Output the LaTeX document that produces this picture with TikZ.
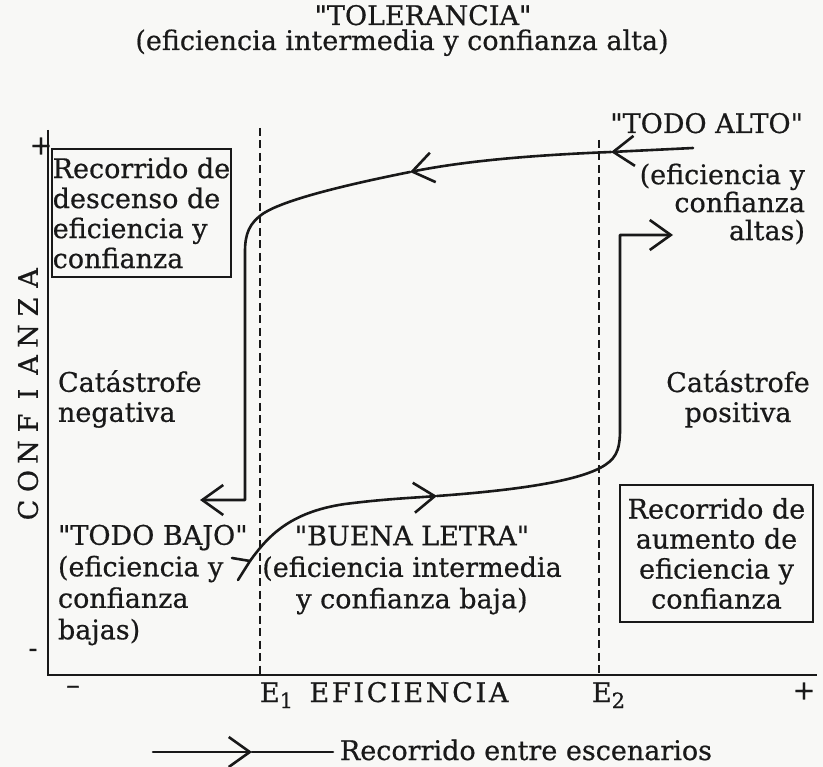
\documentclass[tikz,border=0pt]{standalone}
\usepackage{fontspec}
\setmainfont{DejaVu Serif}[FakeBold=0.6]
\usetikzlibrary{arrows.meta}
\definecolor{inkc}{RGB}{25,25,25}
\definecolor{paper}{RGB}{248,248,246}
\begin{document}
\begin{tikzpicture}[x=1pt,y=-1pt,
  txt/.style={font=\fontsize{27}{30}\selectfont, text=inkc, inner sep=0pt, outer sep=0pt},
  sign/.style={font=\fontsize{27}{30}\selectfont, text=inkc, inner sep=0pt},
  conn/.style={draw=inkc, line width=2.6pt, line cap=round, line join=round},
  axis/.style={draw=inkc, line width=2.4pt},
  guide/.style={draw=inkc, line width=2.2pt, dash pattern=on 8pt off 4.5pt},
  frame/.style={draw=inkc, line width=2.4pt},
  barb/.style={-{Straight Barb[length=21pt,width=30pt]}}
]
\fill[paper] (0,0) rectangle (823,767);
\useasboundingbox (0,0) rectangle (823,767);

% axes
\coordinate (ytop) at (48,130);
\coordinate (orig) at (48,675);
\coordinate (xend) at (817,675);
\draw[axis] (ytop) -- (orig) -- (xend);
\coordinate (e1t) at (260,128);
\coordinate (e1b) at (260,675);
\coordinate (e2t) at (599,140);
\coordinate (e2b) at (599,675);
\draw[guide] (e1t) -- (e1b);
\draw[guide] (e2t) -- (e2b);

% signs
\node[sign] (yplus) at (41,146) {+};
\node[sign] (yminus) at (33,653) {-};
\node[sign] (xminus) at (73,690) {–};
\node[sign] (xplus) at (804,691) {+};

% axis labels
\node[txt, anchor=base west] (e1lab) at (260,702) {E\raisebox{-6pt}{\fontsize{21}{22}\selectfont 1}};
\node[txt, anchor=base west] (e2lab) at (592,702) {E\raisebox{-6pt}{\fontsize{21}{22}\selectfont 2}};
\node[txt, anchor=base] (efi) at (409,702) {\addfontfeature{LetterSpace=10}EFICIENCIA};
\foreach \l [count=\i from 0] in {C,O,N,F,I,A,N,Z,A}
  \node[txt, rotate=90] (cf\i) at (28,{510-29*\i}) {\l};

% titles and labels
\node[txt, anchor=base] (tol) at (423,25) {\textquotedbl TOLERANCIA\textquotedbl};
\node[txt, anchor=base] (tolsub) at (402,50) {(eficiencia intermedia y confianza alta)};
\node[txt, anchor=base east] (alto) at (803,133) {\textquotedbl TODO ALTO\textquotedbl};
\node[txt, anchor=east, align=right, font=\fontsize{27}{28}\selectfont] (altosub) at (805,204) {(eficiencia y\\confianza\\altas)};
\node[txt, anchor=west, align=left] (neg) at (58,399) {Catástrofe\\negativa};
\node[txt, align=center] (pos) at (738,399) {Catástrofe\\positiva};
\node[txt, anchor=west, align=left, font=\fontsize{27}{31.5}\selectfont] (bajo) at (58,585) {\textquotedbl TODO BAJO\textquotedbl\\(eficiencia y\\confianza\\bajas)};
\node[txt, align=center, font=\fontsize{27}{31.5}\selectfont] (buena) at (412,570) {\textquotedbl BUENA LETRA\textquotedbl\\(eficiencia intermedia\\y confianza baja)};

% boxes
\node[txt, frame, minimum width=179pt, minimum height=128pt, align=left] (desc) at (141.5,213) {Recorrido de\\descenso de\\eficiencia y\\confianza};
\node[txt, frame, minimum width=193pt, minimum height=137pt, align=center] (aum) at (716.5,553.5) {Recorrido de\\aumento de\\eficiencia y\\confianza};

% path down (TODO ALTO -> TODO BAJO)
\coordinate (a0) at (693,148);
\coordinate (a1) at (611,152);
\coordinate (a2) at (410,172);
\coordinate (a3) at (200,500);
\draw[conn, barb] (a0) -- (a1);
\draw[conn, barb] (a1) -- (599,152.5) .. controls (520,156) and (460,162) .. (a2);
\draw[conn, barb] (a2) .. controls (340,186) and (285,200) .. (264,213) .. controls (249,223) and (245,234) .. (245,252) -- (245,500) -- (a3);

% path up (TODO BAJO -> BUENA LETRA -> TODO ALTO)
\coordinate (b0l) at (232,558);
\coordinate (b0) at (250,561);
\coordinate (b0r) at (238,580);
\coordinate (b1) at (437,496);
\coordinate (b2) at (673,235);
\draw[conn] (b0l) -- (b0) -- (b0r);
\draw[conn, barb] (b0) .. controls (268,536) and (290,512) .. (345,504) .. controls (385,499) and (410,498) .. (b1);
\draw[conn, barb] (b1) .. controls (520,490) and (575,481) .. (600,468) .. controls (615,460) and (620,452) .. (620,430) -- (620,235) -- (b2);

% legend
\coordinate (l0) at (153,752);
\coordinate (lm) at (252,752);
\coordinate (l1) at (333,752);
\draw[conn, barb] (l0) -- (lm);
\draw[conn] (lm) -- (l1);
\node[txt, anchor=base west] (legtxt) at (340,760) {Recorrido entre escenarios};
\end{tikzpicture}
\end{document}
